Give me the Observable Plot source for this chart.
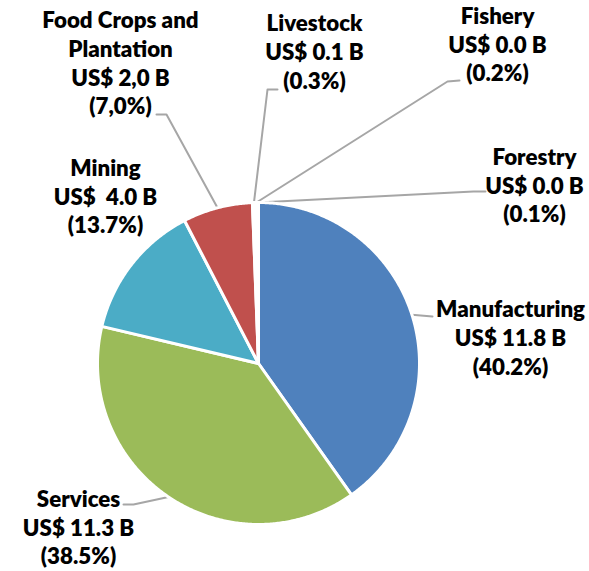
<!DOCTYPE html>
<html>
<head>
<meta charset="utf-8">
<script src="https://cdn.jsdelivr.net/npm/d3@7"></script>
<script src="https://cdn.jsdelivr.net/npm/@observablehq/plot@0.6"></script>
<style>
  html, body { margin: 0; padding: 0; background: #fff; }
  svg text { white-space: pre; }
</style>
</head>
<body>
<div id="chart"></div>
<script>
// ---- data ----
const sectors = ["Manufacturing", "Services", "Mining", "Food Crops and Plantation", "Livestock", "Fishery", "Forestry"];
const nameLabels = ["Manufacturing", "Services", "Mining", "Food Crops and\nPlantation", "Livestock", "Fishery", "Forestry"];
const valuesUSDbn = [11.8, 11.3, 4.0, 2.0, 0.1, 0.0, 0.0];
const valueLabels = ["US$ 11.8 B", "US$ 11.3 B", "US$  4.0 B", "US$ 2,0 B", "US$ 0.1 B", "US$ 0.0 B", "US$ 0.0 B"];
const sharesPct = [40.2, 38.5, 13.7, 7.0, 0.3, 0.2, 0.1];
const shareLabels = ["(40.2%)", "(38.5%)", "(13.7%)", "(7,0%)", "(0.3%)", "(0.2%)", "(0.1%)"];

// ---- layout / styles ----
const colors = ["#4F81BD", "#9BBB59", "#4BACC6", "#C0504D", "#8064A2", "#F79646", "#2C4D75"];
const W = 589, H = 571;
const cx = 258, cy = 363, R = 161;
// label block centre and leader-line knee/end points (layout only)
const labelLayout = [
  {x: 510, y: 336.5, line: [[432, 316]]},
  {x: 78,  y: 526,   line: [[133, 504], [123, 504]]},
  {x: 105, y: 195,   line: null},
  {x: 120, y: 61.5,  line: [[166, 114], [156, 114]]},
  {x: 314, y: 50.5,  line: [[267, 89], [277, 89]]},
  {x: 497, y: 43,    line: [[447, 81], [459, 80]]},
  {x: 534, y: 184,   line: [[473, 191], [485, 191]]}
];

const pie = d3.pie().sort(null).value(d => d.share)(
  sectors.map((s, i) => ({sector: s, share: sharesPct[i], i}))
);
const pt = (a, r) => [cx + r * Math.sin(a), cy - r * Math.cos(a)];

// polygons for slices
const slicePts = [];
pie.forEach(p => {
  const s = p.data.sector;
  slicePts.push({sector: s, x: cx, y: cy});
  const n = Math.max(2, Math.ceil((p.endAngle - p.startAngle) / (Math.PI / 360)));
  for (let k = 0; k <= n; k++) {
    const a = p.startAngle + (p.endAngle - p.startAngle) * k / n;
    const [x, y] = pt(a, R);
    slicePts.push({sector: s, x, y});
  }
  slicePts.push({sector: s, x: cx, y: cy});
});

// leader lines: start at slice mid-angle on the rim
const leaderPts = [];
pie.forEach((p, i) => {
  const L = labelLayout[i].line;
  if (!L) return;
  const mid = (p.startAngle + p.endAngle) / 2;
  const [x0, y0] = pt(mid, R);
  leaderPts.push({sector: p.data.sector, x: x0, y: y0});
  L.forEach(([x, y]) => leaderPts.push({sector: p.data.sector, x, y}));
});

const labels = sectors.map((s, i) => ({
  sector: s,
  text: nameLabels[i] + "\n" + valueLabels[i] + "\n" + shareLabels[i],
  x: labelLayout[i].x,
  y: labelLayout[i].y
}));

const chart = Plot.plot({
  width: W,
  height: H,
  margin: 0,
  axis: null,
  x: {domain: [0, W], range: [0, W]},
  y: {domain: [0, H], range: [0, H]},
  color: {domain: sectors, range: colors},
  style: {background: "white"},
  marks: [
    Plot.line(leaderPts, {x: "x", y: "y", z: "sector", stroke: "#A6A6A6", strokeWidth: 2, curve: "linear"}),
    Plot.line(slicePts, {x: "x", y: "y", z: "sector", fill: "sector", stroke: "white", strokeWidth: 3, strokeLinejoin: "round", curve: "linear"}),
    Plot.text(labels, {
      x: "x", y: "y", text: "text",
      fontSize: 22.3, fontWeight: 800, fontFamily: "Lato",
      lineHeight: 1.29, fill: "black", textAnchor: "middle"
    })
  ]
});
document.getElementById("chart").appendChild(chart);
</script>
</body>
</html>
